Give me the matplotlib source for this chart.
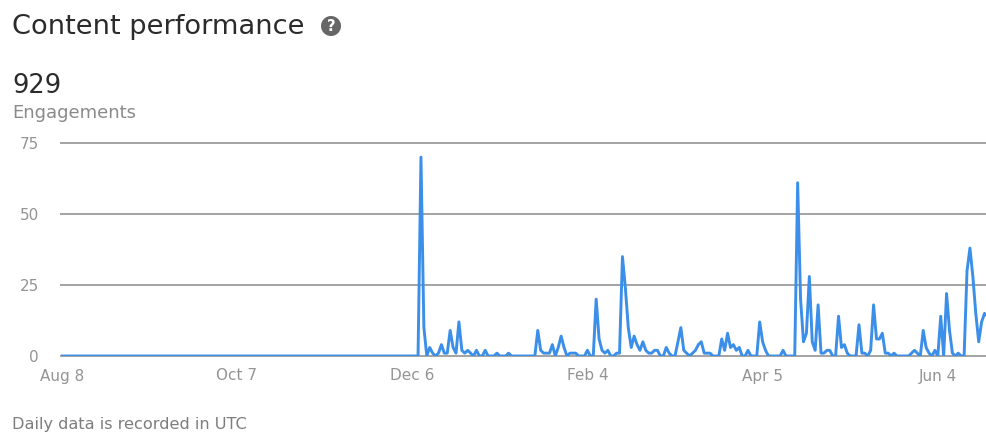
import matplotlib
matplotlib.use('Agg')
import matplotlib.pyplot as plt
from matplotlib.patches import Circle

# daily engagements, one value per day starting Aug 8
engagements = [
    0, 0, 0, 0, 0, 0, 0, 0, 0, 0, 0, 0, 0, 0, 0, 0, 0, 0, 0, 0,
    0, 0, 0, 0, 0, 0, 0, 0, 0, 0, 0, 0, 0, 0, 0, 0, 0, 0, 0, 0,
    0, 0, 0, 0, 0, 0, 0, 0, 0, 0, 0, 0, 0, 0, 0, 0, 0, 0, 0, 0,
    0, 0, 0, 0, 0, 0, 0, 0, 0, 0, 0, 0, 0, 0, 0, 0, 0, 0, 0, 0,
    0, 0, 0, 0, 0, 0, 0, 0, 0, 0, 0, 0, 0, 0, 0, 0, 0, 0, 0, 0,
    0, 0, 0, 0, 0, 0, 0, 0, 0, 0, 0, 0, 0, 0, 0, 0, 0, 0, 0, 0,
    0, 0, 0, 70, 10, 0, 3, 1, 0, 1,
    4, 1, 1, 9, 3, 1, 12, 2, 1, 2,
    1, 0, 2, 0, 0, 2, 0, 0, 0, 1,
    0, 0, 0, 1, 0, 0, 0, 0, 0, 0,
    0, 0, 0, 9, 2, 1, 1, 1, 4, 0,
    3, 7, 3, 0, 1, 1, 1, 0, 0, 0,
    2, 0, 0, 20, 6, 2, 1, 2, 0, 0,
    1, 1, 35, 24, 10, 3, 7, 4, 2, 5,
    2, 1, 1, 2, 2, 0, 0, 3, 1, 0,
    0, 5, 10, 2, 1, 0, 1, 2, 4, 5,
    1, 1, 1, 0, 0, 0, 6, 2, 8, 3,
    4, 2, 3, 0, 0, 2, 0, 0, 0, 12,
    5, 2, 0, 0, 0, 0, 0, 2, 0, 0,
    0, 0, 61, 20, 5, 8, 28, 5, 2, 18,
    1, 1, 2, 2, 0, 0, 14, 3, 4, 1,
    0, 0, 0, 11, 1, 1, 0, 2, 18, 6,
    6, 8, 1, 1, 0, 1, 0, 0, 0, 0,
    0, 1, 2, 1, 0, 9, 3, 1, 0, 2,
    0, 14, 0, 22, 9, 1, 0, 1, 0, 0,
    30, 38, 28, 15, 5, 12, 15, 14,
]
days = list(range(len(engagements)))
x_ticks = [0, 60, 120, 180, 240, 300]
x_labels = ['Aug 8', 'Oct 7', 'Dec 6', 'Feb 4', 'Apr 5', 'Jun 4']
y_ticks = [0, 25, 50, 75]

W, H = 986, 433
plt.rcParams['font.family'] = ['DejaVu Sans']

fig = plt.figure(figsize=(W / 100, H / 100), dpi=100)
ax = fig.add_axes([61 / W, 1 - 356 / H, 925 / W, 213 / H])

ax.plot(days, engagements, color='#3b8fe8', lw=2.1, solid_joinstyle='round', zorder=3)

ax.set_xlim(-0.27, 316.5)
ax.set_ylim(0, 75)
ax.set_xticks(x_ticks)
ax.set_xticklabels(x_labels)
ax.set_yticks(y_ticks)
ax.tick_params(axis='both', length=0, labelsize=11, labelcolor='#949494')
ax.tick_params(axis='x', pad=9)
ax.tick_params(axis='y', pad=16)
ax.grid(axis='y', color='#a3a3a3', lw=1.4, zorder=1)
ax.set_axisbelow(True)
for spine in ax.spines.values():
    spine.set_visible(False)
for line in ax.get_ygridlines():
    line.set_clip_on(False)

# header block and footer note
fig.text(12 / W, 1 - 27 / H, 'Content performance', fontsize=19.6, color='#2b2b2b', va='center')
fig.text(12 / W, 1 - 86 / H, '929', fontsize=18.5, color='#2b2b2b', va='center')
fig.text(12 / W, 1 - 113 / H, 'Engagements', fontsize=13, color='#8a8a8a', va='center')
fig.text(12 / W, 1 - 425 / H, 'Daily data is recorded in UTC', fontsize=11.6, color='#7d7d7d', va='center')

# help icon next to the title
overlay = fig.add_axes([0, 0, 1, 1], facecolor='none')
overlay.set_xlim(0, W)
overlay.set_ylim(H, 0)
overlay.set_aspect('equal')
overlay.axis('off')
overlay.add_patch(Circle((331, 26), 10, color='#666666', lw=0))
overlay.text(331, 26.5, '?', color='white', fontsize=10.5, fontweight='bold', ha='center', va='center')

fig.savefig('out.png', dpi=100)
